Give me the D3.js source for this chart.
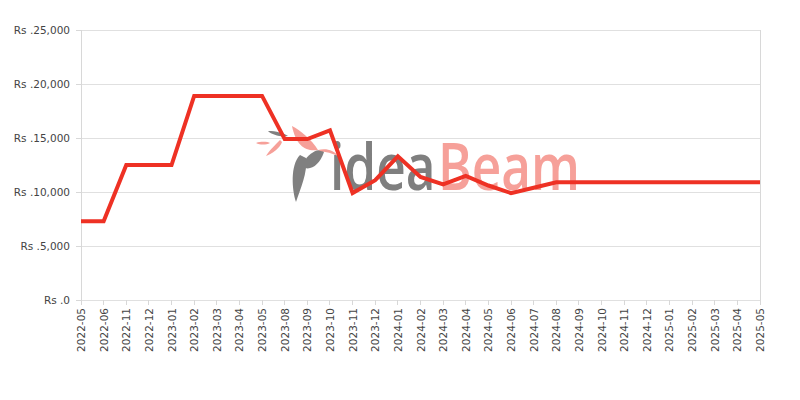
<!DOCTYPE html>
<html><head><meta charset="utf-8">
<script src="https://cdn.jsdelivr.net/npm/d3@7"></script>
<style>body{margin:0;background:#fff;font-family:"DejaVu Sans",sans-serif;}</style>
</head><body><svg id="c" width="800" height="400"></svg>
<script>
const categories = ["2022-05","2022-06","2022-11","2022-12","2023-01","2023-02","2023-03","2023-04","2023-05","2023-08","2023-09","2023-10","2023-11","2023-12","2024-01","2024-02","2024-03","2024-04","2024-05","2024-06","2024-07","2024-08","2024-09","2024-10","2024-11","2024-12","2025-01","2025-02","2025-03","2025-04","2025-05"];
const prices = [7300,7300,12500,12500,12500,18900,18900,18900,18900,14900,14900,15700,9900,11100,13300,11400,10700,11500,10600,9900,10400,10900,10900,10900,10900,10900,10900,10900,10900,10900,10900];
const yTicks = [0,5000,10000,15000,20000,25000];

const svg = d3.select("#c");
const m = {l:81, r:760, t:30, b:300};
const x = d3.scalePoint().domain(categories).range([m.l, m.r]);
const y = d3.scaleLinear().domain([0,25000]).range([m.b, m.t]);

svg.append("g").selectAll("line").data(yTicks).join("line")
  .attr("x1", m.l).attr("x2", m.r).attr("y1", d=>y(d)).attr("y2", d=>y(d))
  .attr("stroke", "#e0e0e0").attr("stroke-width", 1).attr("shape-rendering","crispEdges");
svg.append("line").attr("x1",m.l).attr("x2",m.l).attr("y1",m.t).attr("y2",m.b+5).attr("stroke","#d8d8d8").attr("shape-rendering","crispEdges");
svg.append("line").attr("x1",m.r).attr("x2",m.r).attr("y1",m.t).attr("y2",m.b).attr("stroke","#d8d8d8").attr("shape-rendering","crispEdges");
svg.append("g").selectAll("line").data(yTicks).join("line")
  .attr("x1", m.l-5).attr("x2", m.l).attr("y1", d=>y(d)).attr("y2", d=>y(d))
  .attr("stroke","#d8d8d8").attr("shape-rendering","crispEdges");
svg.append("g").selectAll("line").data(categories).join("line")
  .attr("x1", d=>x(d)).attr("x2", d=>x(d)).attr("y1", m.b).attr("y2", m.b+5)
  .attr("stroke","#d8d8d8").attr("shape-rendering","crispEdges");

svg.append("g").selectAll("text").data(yTicks).join("text")
  .attr("x", 70).attr("y", d=>y(d)+4).attr("text-anchor","end")
  .attr("font-size", 10.5).attr("fill","#444")
  .text(d=>"Rs ." + d3.format(",")(d));

svg.append("g").selectAll("text").data(categories).join("text")
  .attr("transform", d=>`translate(${x(d)+4},308) rotate(-90)`)
  .attr("text-anchor","end").attr("font-size", 10.5).attr("fill","#444")
  .text(d=>d);

// watermark
const wm = svg.append("g");
const wg = wm.append("g");
const t1 = wg.append("text").attr("x", 0).attr("y", 0).attr("font-family","Open Sans, sans-serif")
  .attr("font-size", 66).attr("font-weight", 600).attr("fill","#7f7f7f").text("idea");
const w1 = t1.node().getComputedTextLength();
const t2 = wg.append("text").attr("x", w1 + 3).attr("y", 0).attr("font-family","Open Sans, sans-serif")
  .attr("font-size", 66).attr("font-weight", 600).attr("fill","#f6a099").text("Beam");
const w2 = t2.node().getComputedTextLength();
const sx = 250 / (w1 + 3 + w2);
wg.attr("transform", `translate(330,190) scale(${sx},1)`);

wm.append("path").attr("d","M300,155 C290,165 292,190 296,202 C300,190 308,172 306,158 Z").attr("fill","#808080");
wm.append("path").attr("d","M305,160 C312,150 322,148 324,152 C320,164 312,170 305,168 Z").attr("fill","#808080");
wm.append("path").attr("d","M292,126 C300,130 312,140 318,150 C306,152 296,146 292,126 Z").attr("fill","#f6a099");
wm.append("path").attr("d","M318,150 C326,148 334,150 338,156 C330,152 322,152 318,150 Z").attr("fill","#f6a099");
wm.append("path").attr("d","M280,140 C274,146 268,152 266,156 C272,154 280,148 282,142 Z").attr("fill","#f6a099");
wm.append("path").attr("d","M256,143 C262,141 268,142 270,143 C266,145 260,145 256,143 Z").attr("fill","#f6a099");
wm.append("path").attr("d","M268,131 C276,131 284,133 288,136 C280,137 272,135 268,131 Z").attr("fill","#808080");

const line = d3.line().x((d,i)=>x(categories[i])).y(d=>y(d));
svg.append("path").datum(prices).attr("d", line)
  .attr("fill","none").attr("stroke","#ee3124").attr("stroke-width",4).attr("stroke-linejoin","miter");
</script></body></html>
